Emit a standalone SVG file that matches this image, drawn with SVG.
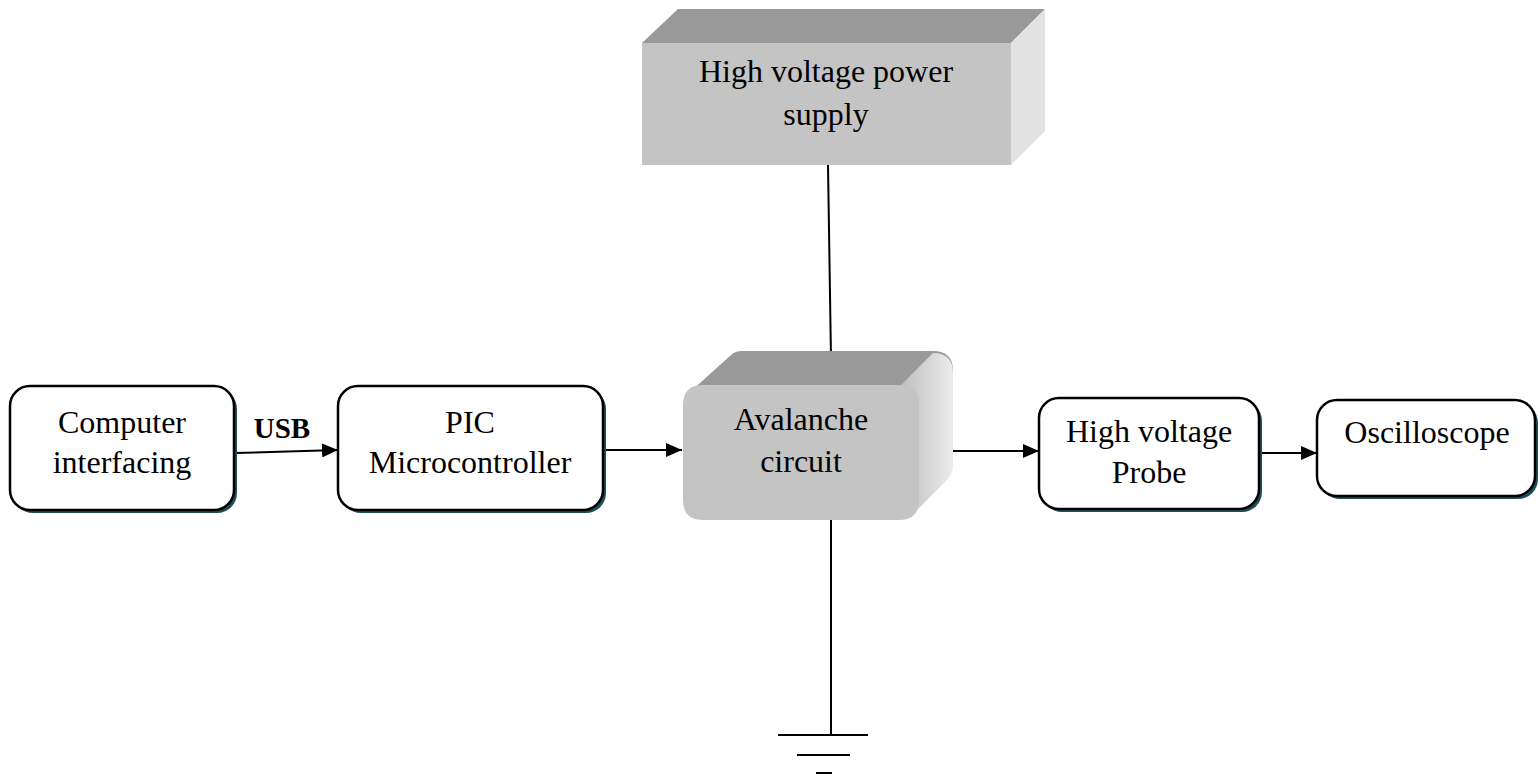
<svg xmlns="http://www.w3.org/2000/svg" width="1540" height="778" viewBox="0 0 1540 778">
<style>
.box{fill:#fff;stroke:#000;stroke-width:2.5}
.shadow{fill:#1f4d5c}
.t{font-family:"Liberation Serif","Times New Roman",serif;font-size:32px;fill:#000;text-anchor:middle}
.b{font-weight:bold}
.ln{stroke:#000;stroke-width:2;fill:none}
</style>
<defs>
<marker id="arr" viewBox="0 0 16 14" refX="16" refY="7" markerWidth="16" markerHeight="14" markerUnits="userSpaceOnUse" orient="auto">
<path d="M0,0 L16,7 L0,14 Z" fill="#000"/>
</marker>
<linearGradient id="side" x1="0" y1="0" x2="1" y2="0">
<stop offset="0" stop-color="#bdbdbd"/>
<stop offset="1" stop-color="#ececec"/>
</linearGradient>
</defs>
<g id="connectors">
<line class="ln" x1="235" y1="453" x2="338" y2="450" marker-end="url(#arr)"/>
<line class="ln" x1="604" y1="450" x2="682" y2="450" marker-end="url(#arr)"/>
<line class="ln" x1="948" y1="451" x2="1039" y2="451" marker-end="url(#arr)"/>
<line class="ln" x1="1260" y1="453" x2="1317" y2="453" marker-end="url(#arr)"/>
<line class="ln" x1="828" y1="165" x2="831" y2="359"/>
<line class="ln" x1="831" y1="520" x2="831" y2="735"/>
</g>
<g id="ground">
<line class="ln" x1="778" y1="735" x2="868" y2="735"/>
<line class="ln" x1="797" y1="755" x2="850" y2="755"/>
<line class="ln" x1="816" y1="773" x2="832" y2="773"/>
</g>
<g id="computer">
<rect class="shadow" x="13" y="389" width="224" height="124" rx="20"/>
<rect class="box" x="10" y="386" width="224" height="124" rx="20"/>
<text class="t" x="122" y="433">Computer</text>
<text class="t" x="122" y="473">interfacing</text>
</g>
<text class="t b" x="282" y="438" style="font-size:29px">USB</text>
<g id="pic">
<rect class="shadow" x="341" y="389" width="265" height="124" rx="20"/>
<rect class="box" x="338" y="386" width="265" height="124" rx="20"/>
<text class="t" x="470" y="433">PIC</text>
<text class="t" x="470" y="473">Microcontroller</text>
</g>
<g id="power">
<polygon points="642,43 678,9 1045,9 1011,43" fill="#999"/>
<polygon points="1011,43 1045,9 1045,131 1011,165" fill="#e2e2e2"/>
<rect x="642" y="43" width="369" height="122" fill="#c4c4c4"/>
<text class="t" x="826" y="82">High voltage power</text>
<text class="t" x="826" y="125">supply</text>
</g>
<g id="avalanche">
<path d="M690,392 L731,355 Q735,351 742,351 L933,351 Q953,351 953,371 L919,405 L919,390 L690,392 Z" fill="#999"/>
<path d="M900,386 L933,353 Q953,353 953,373 L953,466 Q953,474 946,481 L915,512 Z" fill="url(#side)"/>
<path d="M703,385 L899,385 Q919,385 919,405 L919,500 Q919,520 899,520 L703,520 Q683,520 683,500 L683,405 Q683,385 703,385 Z" fill="#c4c4c4"/>
<text class="t" x="801" y="430">Avalanche</text>
<text class="t" x="801" y="472">circuit</text>
</g>
<g id="probe">
<rect class="shadow" x="1042" y="401" width="220" height="111" rx="20"/>
<rect class="box" x="1039" y="398" width="220" height="111" rx="20"/>
<text class="t" x="1149" y="442">High voltage</text>
<text class="t" x="1149" y="483">Probe</text>
</g>
<g id="oscilloscope">
<rect class="shadow" x="1320" y="403" width="218" height="96" rx="20"/>
<rect class="box" x="1317" y="400" width="218" height="96" rx="20"/>
<text class="t" x="1427" y="443">Oscilloscope</text>
</g>
</svg>
